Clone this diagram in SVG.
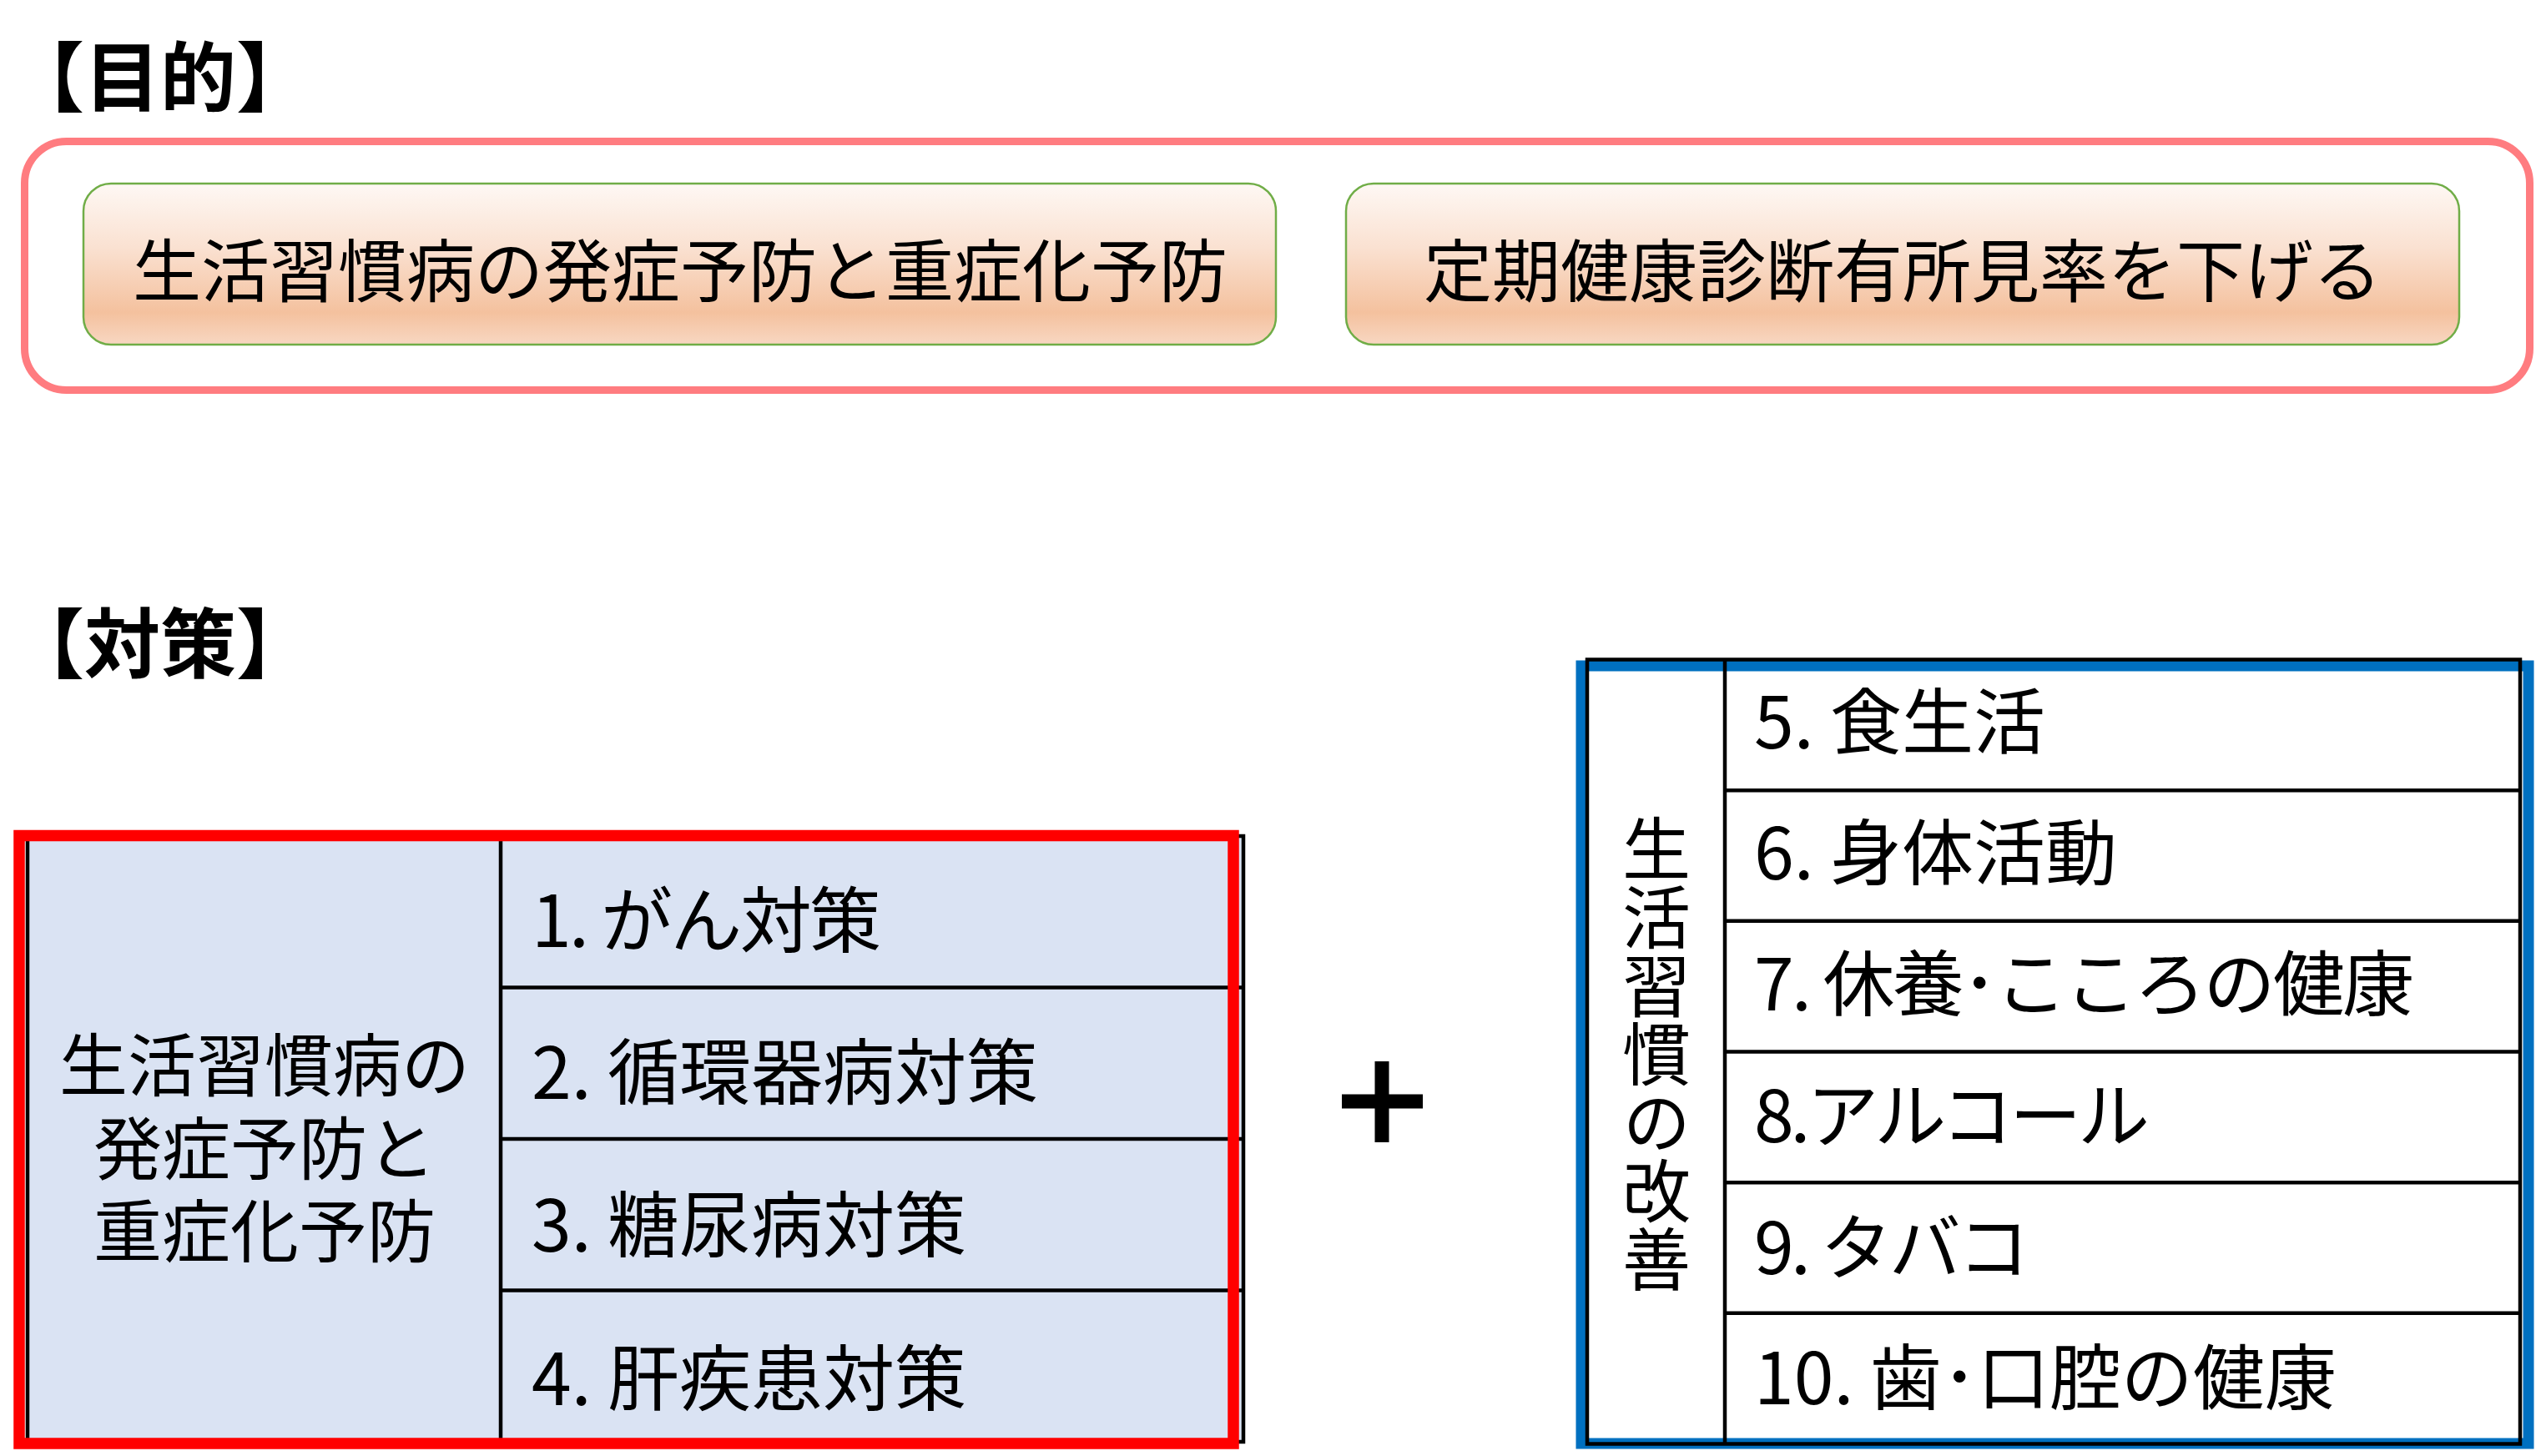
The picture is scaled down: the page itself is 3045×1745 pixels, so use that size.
<svg xmlns="http://www.w3.org/2000/svg" width="3045" height="1745" viewBox="0 0 3045 1745">
<defs>
<linearGradient id="peach" x1="0" y1="0" x2="0" y2="1">
<stop offset="0" stop-color="#FEF8F4"/>
<stop offset="0.4" stop-color="#FAE1D1"/>
<stop offset="0.8" stop-color="#F4C19E"/>
<stop offset="1" stop-color="#F8D7C2"/>
</linearGradient>
<style>
text{font-family:"Noto Sans CJK JP","Noto Sans CJK SC",sans-serif;fill:#000}
.head{font-size:91px;font-weight:bold}
.goal{font-size:82px;text-anchor:middle}
.item{font-size:86px}
.lbl{font-size:82px;text-anchor:middle}
.gbox{fill:url(#peach);stroke:#70AD47;stroke-width:2.5}
.grid{fill:none;stroke:#000;stroke-width:4.5}
</style>
</defs>
<rect width="3045" height="1745" fill="#fff"/>

<g id="heading-mokuteki"><text class="head" x="10" y="126">【目的】</text></g>

<g id="goal-frame">
<rect x="29.5" y="169.5" width="3002" height="298" rx="50" ry="50" fill="none" stroke="#FF7C80" stroke-width="9"/>
</g>
<g id="goal-1">
<rect class="gbox" x="100" y="220" width="1429" height="193" rx="33" ry="33"/>
<text class="goal" x="815" y="355">生活習慣病の発症予防と重症化予防</text>
</g>
<g id="goal-2">
<rect class="gbox" x="1613" y="220" width="1334" height="193" rx="33" ry="33"/>
<text class="goal" x="2280" y="355">定期健康診断有所見率を下げる</text>
</g>

<g id="heading-taisaku"><text class="head" x="10" y="805">【対策】</text></g>

<g id="table-disease">
<rect x="33" y="1002" width="1457" height="726" fill="#DAE3F3"/>
<g class="grid">
<rect x="33" y="1002" width="1457" height="726"/>
<line x1="600" y1="1002" x2="600" y2="1728"/>
<line x1="600" y1="1183.5" x2="1490" y2="1183.5"/>
<line x1="600" y1="1365" x2="1490" y2="1365"/>
<line x1="600" y1="1546.5" x2="1490" y2="1546.5"/>
</g>
<text class="lbl"><tspan x="317" y="1307">生活習慣病の</tspan><tspan x="317" y="1407">発症予防と</tspan><tspan x="317" y="1506">重症化予防</tspan></text>
<text class="item" x="637" y="1135" textLength="419" lengthAdjust="spacing">1. がん対策</text>
<text class="item" x="637" y="1317">2. 循環器病対策</text>
<text class="item" x="637" y="1500">3. 糖尿病対策</text>
<text class="item" x="637" y="1684">4. 肝疾患対策</text>
<rect x="23" y="1001.5" width="1455" height="728.5" fill="none" stroke="#FF0000" stroke-width="13.5"/>
</g>

<g id="plus">
<path d="M1608 1311.5H1647.5V1272H1664.5V1311.5H1705V1328.5H1664.5V1369H1647.5V1328.5H1608Z" fill="#000"/>
</g>

<g id="table-lifestyle">
<rect x="1895" y="798" width="1135" height="932" fill="#fff" stroke="#0070C0" stroke-width="13"/>
<g class="grid">
<rect x="1902" y="790.5" width="1118" height="940"/>
<line x1="2067" y1="790.5" x2="2067" y2="1730.5"/>
<line x1="2067" y1="947.2" x2="3020" y2="947.2"/>
<line x1="2067" y1="1103.8" x2="3020" y2="1103.8"/>
<line x1="2067" y1="1260.5" x2="3020" y2="1260.5"/>
<line x1="2067" y1="1417.2" x2="3020" y2="1417.2"/>
<line x1="2067" y1="1573.8" x2="3020" y2="1573.8"/>
</g>
<text class="lbl" x="1985" y="1263" writing-mode="vertical-rl" style="writing-mode:vertical-rl">生活習慣の改善</text>
<text class="item" x="2102" y="897">5. 食生活</text>
<text class="item" x="2102" y="1054">6. 身体活動</text>
<text class="item" x="2102" y="1211" textLength="791" lengthAdjust="spacing">7. 休養･こころの健康</text>
<text class="item" x="2102" y="1369" textLength="474" lengthAdjust="spacing">8.アルコール</text>
<text class="item" x="2102" y="1527" textLength="330" lengthAdjust="spacing">9. タバコ</text>
<text class="item" x="2102" y="1683">10. 歯･口腔の健康</text>
</g>
</svg>
